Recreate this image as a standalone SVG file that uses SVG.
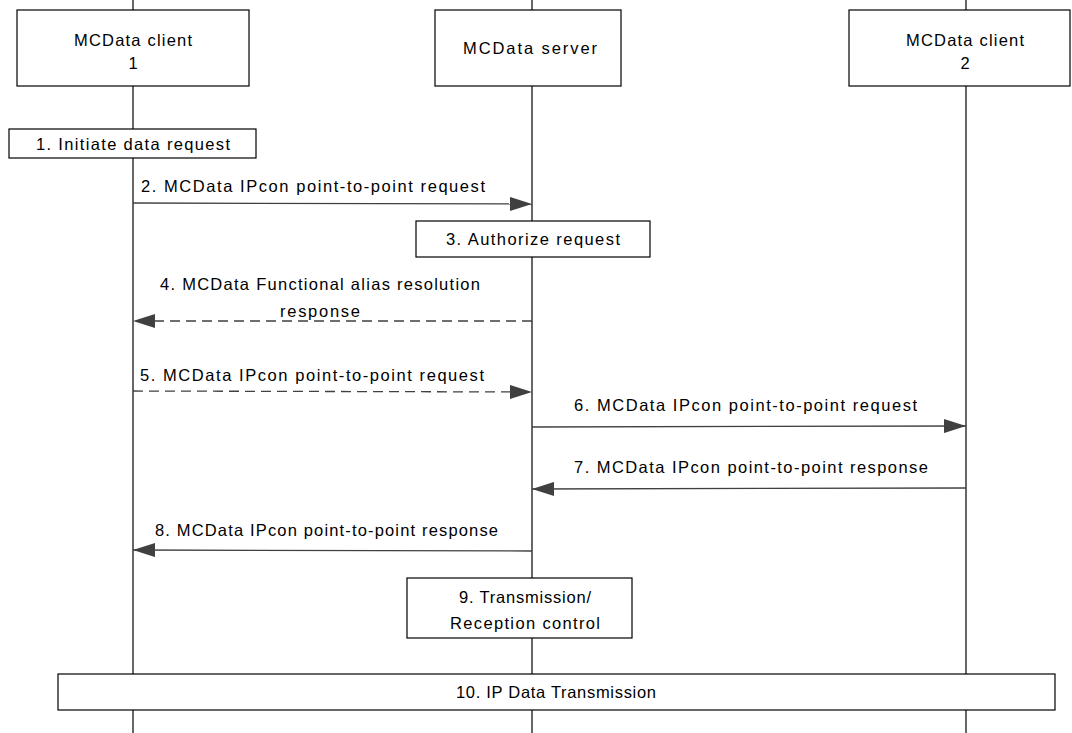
<svg xmlns="http://www.w3.org/2000/svg" width="1072" height="733" viewBox="0 0 1072 733">
<style>
.box{fill:#fff;stroke:#000;stroke-width:1.2}
.life{stroke:#000;stroke-width:1.2;fill:none}
.msg{stroke:#404040;stroke-width:1.3;fill:none}
.dash{stroke-dasharray:10,6}
text{font-family:"Liberation Sans",Arial,sans-serif;font-size:16.5px;fill:#000}
.c{text-anchor:middle}
</style>
<defs>
<marker id="ah" viewBox="0 0 22 14" refX="22" refY="7" markerWidth="22" markerHeight="14" markerUnits="userSpaceOnUse" orient="auto">
<path d="M0,0 L22,7 L0,14 Z" fill="#404040"/>
</marker>
</defs>
<g id="lifelines">
<line class="life" x1="133" y1="0" x2="133" y2="733"/>
<line class="life" x1="532" y1="0" x2="532" y2="733"/>
<line class="life" x1="966" y1="0" x2="966" y2="733"/>
</g>
<g id="client1">
<rect class="box" x="17" y="10" width="232" height="76"/>
<text class="c" x="133" y="46" textLength="118">MCData client</text>
<text class="c" x="133" y="69">1</text>
</g>
<g id="server">
<rect class="box" x="435" y="10" width="186" height="76"/>
<text class="c" x="530" y="54" textLength="134">MCData server</text>
</g>
<g id="client2">
<rect class="box" x="849" y="10" width="221" height="76"/>
<text class="c" x="965" y="46" textLength="118">MCData client</text>
<text class="c" x="965" y="69">2</text>
</g>
<g id="step1">
<rect class="box" x="9" y="129" width="247" height="29"/>
<text class="c" x="133" y="150" textLength="194">1. Initiate data request</text>
</g>
<g id="step3">
<rect class="box" x="416" y="221" width="234" height="36"/>
<text class="c" x="533" y="245" textLength="174">3. Authorize request</text>
</g>
<g id="step9">
<rect class="box" x="407" y="578" width="225" height="60"/>
<text class="c" x="525" y="603" textLength="132">9. Transmission/</text>
<text class="c" x="525" y="629" textLength="150">Reception control</text>
</g>
<g id="step10">
<rect class="box" x="58" y="674" width="997" height="36"/>
<text class="c" x="556" y="698" textLength="200">10. IP Data Transmission</text>
</g>
<g id="connectors">
<line class="msg" x1="133" y1="203" x2="532" y2="204" marker-end="url(#ah)"/>
<line class="msg dash" x1="532" y1="321" x2="133" y2="321" marker-end="url(#ah)"/>
<line class="msg dash" x1="133" y1="391" x2="532" y2="392" marker-end="url(#ah)"/>
<line class="msg" x1="532" y1="427" x2="966" y2="426" marker-end="url(#ah)"/>
<line class="msg" x1="966" y1="488" x2="532" y2="489" marker-end="url(#ah)"/>
<line class="msg" x1="532" y1="551" x2="133" y2="550" marker-end="url(#ah)"/>
</g>
<g id="labels">
<text x="141" y="192" textLength="344">2. MCData IPcon point-to-point request</text>
<text class="c" x="320" y="290" textLength="320">4. MCData Functional alias resolution</text>
<text class="c" x="320" y="317" textLength="80">response</text>
<text x="140" y="381" textLength="344">5. MCData IPcon point-to-point request</text>
<text x="574" y="411" textLength="343">6. MCData IPcon point-to-point request</text>
<text x="574" y="473" textLength="354">7. MCData IPcon point-to-point response</text>
<text x="155" y="536" textLength="343">8. MCData IPcon point-to-point response</text>
</g>
</svg>
